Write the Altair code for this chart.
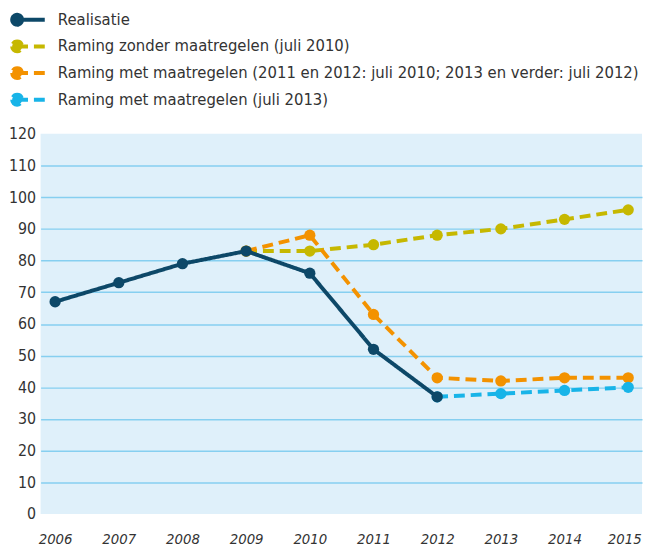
import altair as alt
import pandas as pd

years_real = [2006, 2007, 2008, 2009, 2010, 2011, 2012]
realisatie = [67, 73, 79, 83, 76, 52, 37]

years_zonder = [2009, 2010, 2011, 2012, 2013, 2014, 2015]
zonder = [83, 83, 85, 88, 90, 93, 96]

years_met = [2009, 2010, 2011, 2012, 2013, 2014, 2015]
met = [83, 88, 63, 43, 42, 43, 43]

years_met13 = [2012, 2013, 2014, 2015]
met13 = [37, 38, 39, 40]

series_names = [
    "Realisatie",
    "Raming zonder maatregelen (juli 2010)",
    "Raming met maatregelen (2011 en 2012: juli 2010; 2013 en verder: juli 2012)",
    "Raming met maatregelen (juli 2013)",
]
series_colors = ["#0d4868", "#c6b800", "#f39200", "#18b4e8"]
x_ticks = list(range(2006, 2016))
y_ticks = list(range(0, 121, 10))

rows = []
for name, ys, vs in [
    (series_names[1], years_zonder, zonder),
    (series_names[2], years_met, met),
    (series_names[3], years_met13, met13),
    (series_names[0], years_real, realisatie),
]:
    for y, v in zip(ys, vs):
        rows.append({"serie": name, "jaar": y, "waarde": v})
df = pd.DataFrame(rows)

FONT = "Liberation Sans Narrow, DejaVu Sans Condensed, Roboto, sans-serif"
PATH = ("M-0.556,0 m-0.444,0 a0.444,0.444 0 1,0 0.888,0 "
        "a0.444,0.444 0 1,0 -0.888,0 Z M-0.556,0 L1.933,0")

legend = alt.Legend(
    title=None, orient="none", legendX=-31, legendY=-129,
    symbolType=PATH, symbolSize=506, symbolStrokeWidth=4, symbolOpacity=1,
    labelFont=FONT, labelFontSize=16.7, labelColor="#333333",
    labelOffset=21.5, rowPadding=0, padding=0, labelLimit=800,
)

color = alt.Color("serie:N", scale=alt.Scale(domain=series_names, range=series_colors), legend=legend)
dash = alt.StrokeDash("serie:N", scale=alt.Scale(domain=series_names,
                      range=[[1, 0], [11, 6], [11, 6], [11, 6]]), legend=legend)

x = alt.X("jaar:Q", scale=alt.Scale(domain=[2005.772, 2015.217], nice=False, zero=False),
          axis=alt.Axis(values=x_ticks, format="d", title=None, grid=False, domain=False,
                        ticks=False, labelFont=FONT, labelFontSize=15, labelFontStyle="italic",
                        labelColor="#333333", labelPadding=18, labelFlush=False,
                        labelOffset={"condition": {"test": "datum.value === 2015", "value": -4}, "value": 0}))
y = alt.Y("waarde:Q", scale=alt.Scale(domain=[0, 120], nice=False),
          axis=alt.Axis(values=y_ticks, title=None, domain=False, ticks=False,
                        labelFont=FONT, labelFontSize=16, labelColor="#333333",
                        labelPadding=5, gridColor="#86cff0", gridWidth=1.5,
                        gridOpacity={"condition": {"test": "datum.value === 0 || datum.value === 120", "value": 0}, "value": 1}))

base = alt.Chart(df)
forecast = base.transform_filter(alt.datum.serie != "Realisatie")
real = base.transform_filter(alt.datum.serie == "Realisatie")

layers = []
for b in [forecast, real]:
    layers.append(b.mark_line(strokeWidth=4).encode(x=x, y=y, color=color, strokeDash=dash, detail="serie:N"))
    layers.append(b.mark_point(filled=True, size=130, opacity=1).encode(x=x, y=y, color=color))

chart = alt.layer(*layers).properties(
    width=609, height=385,
    autosize="none",
    padding={"left": 33, "top": 124, "right": 2, "bottom": 32},
).configure_view(fill="#dff0fa", stroke=None)

chart.save("out.html", embed_options={"renderer": "svg", "actions": False})
